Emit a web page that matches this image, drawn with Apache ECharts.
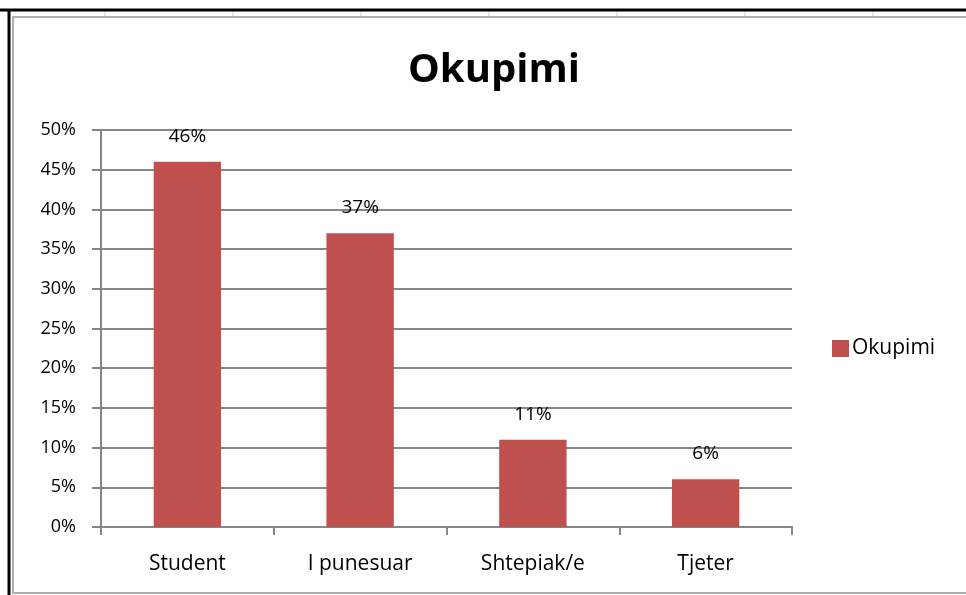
<!DOCTYPE html>
<html>
<head>
<meta charset="utf-8">
<script src="https://cdn.jsdelivr.net/npm/echarts@6/dist/echarts.min.js"></script>
<style>
html, body { margin: 0; padding: 0; background: #fff; }
#chart { width: 966px; height: 595px; }
</style>
</head>
<body>
<div id="chart"></div>
<script>
// te dhenat
var categories = ['Student', 'I punesuar', 'Shtepiak/e', 'Tjeter'];
var values = [0.46, 0.37, 0.11, 0.06];
var seriesName = 'Okupimi';
var title = 'Okupimi';

var font = '"Open Sans", "Noto Sans", sans-serif';

var myChart = echarts.init(document.getElementById('chart'));

// vijat e fletes se Excel-it ne krye
var cellLines = [];
[105, 233, 361, 489, 617, 745, 873].forEach(function (x) {
	cellLines.push({
		type: 'line',
		shape: { x1: x, y1: 11, x2: x, y2: 16 },
		style: { stroke: '#d0d7e5', lineWidth: 1 }
	});
});

var option = {
	animation: false,
	backgroundColor: '#fff',
	textStyle: { fontFamily: font },
	title: {
		text: title,
		left: 403,
		top: 46,
		textStyle: {
			fontFamily: font,
			fontSize: 40,
			fontWeight: 'bold',
			color: '#000'
		}
	},
	legend: {
		data: [seriesName],
		left: 832,
		top: 338,
		padding: 0,
		itemWidth: 17,
		itemHeight: 17,
		itemGap: 4,
		icon: 'rect',
		textStyle: { fontFamily: font, fontSize: 21, color: '#000', padding: [0, 0, 0, -2] }
	},
	grid: {
		left: 101,
		right: 174,
		top: 130,
		bottom: 68,
		containLabel: false
	},
	xAxis: {
		type: 'category',
		data: categories,
		axisLine: { lineStyle: { color: '#868686', width: 2 } },
		axisTick: { show: true, length: 8, alignWithLabel: false, lineStyle: { color: '#868686', width: 2 } },
		axisLabel: { margin: 27, fontFamily: font, fontSize: 21, color: '#000' }
	},
	yAxis: {
		type: 'value',
		min: 0,
		max: 0.5,
		interval: 0.05,
		axisLine: { show: true, lineStyle: { color: '#868686', width: 2 } },
		axisTick: { show: true, length: 9, lineStyle: { color: '#868686', width: 2 } },
		splitLine: { show: true, lineStyle: { color: '#868686', width: 2 } },
		axisLabel: {
			margin: 25,
			fontFamily: font,
			fontSize: 18,
			color: '#000',
			formatter: function (v) { return Math.round(v * 100) + '%'; }
		}
	},
	series: [{
		name: seriesName,
		type: 'bar',
		data: values,
		barWidth: '39%',
		itemStyle: { color: '#C0504D' },
		label: {
			show: true,
			position: 'top',
			distance: 16,
			fontFamily: font,
			fontSize: 19,
			color: '#000',
			formatter: function (p) { return Math.round(p.value * 100) + '%'; }
		}
	}],
	graphic: cellLines.concat([
		{
			type: 'line',
			shape: { x1: 0, y1: 10, x2: 966, y2: 10 },
			style: { stroke: '#000', lineWidth: 3 }
		},
		{
			type: 'line',
			shape: { x1: 9, y1: 10, x2: 9, y2: 595 },
			style: { stroke: '#000', lineWidth: 3 }
		},
		{
			type: 'rect',
			shape: { x: 13, y: 17, width: 970, height: 576 },
			style: { fill: 'none', stroke: '#b0b0b0', lineWidth: 2 }
		}
	])
};

myChart.setOption(option);
</script>
</body>
</html>
